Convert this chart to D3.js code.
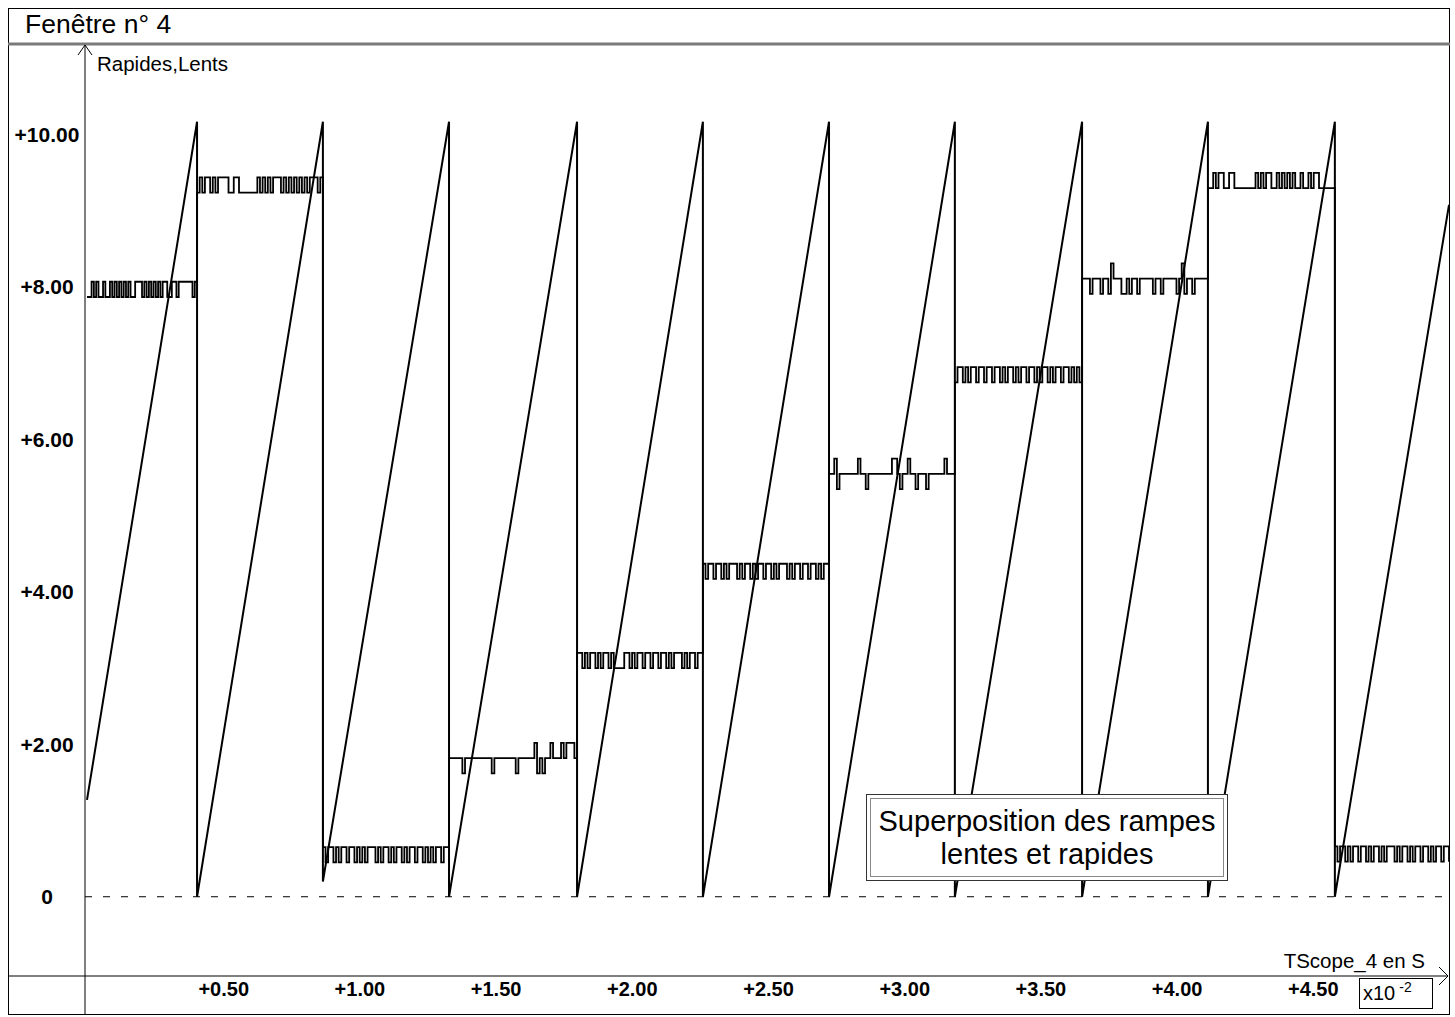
<!DOCTYPE html>
<html>
<head>
<meta charset="utf-8">
<script src="https://cdn.jsdelivr.net/npm/d3@7"></script>
<style>
  html, body { margin: 0; padding: 0; background: #fff; }
  svg { display: block; font-family: "Liberation Sans", Arial, sans-serif; }
</style>
</head>
<body>
<svg id="chart" width="1455" height="1017"></svg>
<script>
// Time axis in units of 10^-2 s. Boundaries of the slow-ramp steps,
// which are also the reset instants of the fast ramp.
const stepTimes = [0, 0.404, 0.866, 1.329, 1.799, 2.261, 2.724, 3.186, 3.653, 4.115, 4.581, 5.0];

// Slow ramp ("Lents"): level held during each step (V)
const slowLevels = [8.07, 9.24, 0.45, 1.82, 3.00, 4.17, 5.55, 6.75, 8.11, 9.30, 0.46];
// One converter quantum (V): the sampled level flickers by this amount
const slowQuantum = 0.2;
// Samples of each step: '.' = held level, 'u' = one quantum above, 'd' = one quantum below
const slowNoise = [
  "dd.d.dd.dd" + ".d.d.d.d.d" + "d...d.d.d." + "d.d..dd..d" + "......d.",
  ".u.uu.u.uu" + "uu..uu...." + "...u.u.u.u" + "uu.u.u.u.u" + ".u.uuu.u",
  "u.uu.u.uu." + "uu.u.u.uuu" + ".u.uu.u.uu" + ".u.uu.uu.u" + ".u.uu.uu",
  ".....d...." + "......d..." + ".....d...." + "..ud.d..u." + "..u.uuu.",
  "uu.u.uu.u." + "uu.u....uu" + ".u.uu.uu.u" + "u.uu.u.uuu" + ".u.uu.uu",
  "u.uu.uu.u." + "uuu.u.uu.u" + ".uu.uu.u.u" + "uu.u.uu.uu" + ".uu.u.uu",
  "..ud......" + ".u..d....." + "....uu.d.." + "u..d...d.." + "....u...",
  ".uu.u.uu.u" + "u.uu.uu.u." + "uu.u.uu.uu" + ".u.uu.u.uu" + ".uu.u.u.",
  "...d...d.." + "du...dd.d." + ".d.....d.." + "d.....d.ud" + "..d.....",
  "..u.uu..uu" + "........u." + "u.uu..u.u." + "u.u..u..u." + "uu......",
  "u.uu.u.uu." + "uu.u.uu.u." + "uuu.u.uu.u" + ".uu.uu.u.u" + "u.uu"
];

// Fast ramp ("Rapides"): value at the start and at the end of each ramp (V)
const fastStartValues = [1.27, 0, 0.20, 0, 0, 0, 0, 0, 0, 0, 0];
const fastEndValues   = [10.17, 10.17, 10.17, 10.17, 10.17, 10.17, 10.17, 10.17, 10.17, 10.17, 9.08];

// Axis ticks
const yTicks = [0, 2, 4, 6, 8, 10];
const xTicks = [0.5, 1, 1.5, 2, 2.5, 3, 3.5, 4, 4.5];

const svg = d3.select("#chart");

// Plot window
const plot = { left: 85, right: 1449, top: 44, bottom: 976 };

const x = d3.scaleLinear().domain([0, 5]).range([87, 1449]);
const y = d3.scaleLinear().domain([-1.04, 11.19]).range([plot.bottom, plot.top]);

// ---- window frame ----
svg.append("rect")
  .attr("x", 8.5).attr("y", 8.5)
  .attr("width", 1441).attr("height", 1006)
  .attr("fill", "#fff").attr("stroke", "#000").attr("stroke-width", 1);

svg.append("text")
  .attr("x", 25).attr("y", 33)
  .attr("font-size", 26.5)
  .attr("fill", "#000")
  .text("Fenêtre n° 4");

svg.append("line")
  .attr("x1", 8).attr("x2", 1450)
  .attr("y1", 44).attr("y2", 44)
  .attr("stroke", "#7a7a7a").attr("stroke-width", 3);

// ---- data ----
const clip = svg.append("defs").append("clipPath").attr("id", "plotClip");
clip.append("rect")
  .attr("x", plot.left).attr("y", plot.top)
  .attr("width", plot.right - plot.left).attr("height", plot.bottom - plot.top);

const dataLayer = svg.append("g").attr("clip-path", "url(#plotClip)");

// zero reference line
dataLayer.append("line")
  .attr("x1", plot.left).attr("x2", plot.right)
  .attr("y1", y(0)).attr("y2", y(0))
  .attr("stroke", "#000").attr("stroke-width", 1)
  .attr("stroke-dasharray", "7,11");

// slow staircase, sample by sample
const slowPoints = [];
slowLevels.forEach((level, i) => {
  const t0 = stepTimes[i], t1 = stepTimes[i + 1];
  const pattern = slowNoise[i];
  const dt = (t1 - t0) / pattern.length;
  for (let j = 0; j < pattern.length; j++) {
    const c = pattern[j];
    const v = level + (c === "u" ? slowQuantum : c === "d" ? -slowQuantum : 0);
    slowPoints.push([t0 + j * dt, v]);
  }
});
slowPoints.push([stepTimes[stepTimes.length - 1], slowLevels[slowLevels.length - 1]]);

const stepLine = d3.line()
  .x(d => x(d[0])).y(d => y(d[1]))
  .curve(d3.curveStepAfter);

dataLayer.append("path")
  .datum(slowPoints)
  .attr("d", stepLine)
  .attr("fill", "none")
  .attr("stroke", "#000")
  .attr("stroke-width", 1.8);

// fast sawtooth: rise during each step, reset at each boundary
const fastPoints = [];
fastStartValues.forEach((v0, i) => {
  fastPoints.push([stepTimes[i], v0]);
  fastPoints.push([stepTimes[i + 1], fastEndValues[i]]);
});

const rampLine = d3.line().x(d => x(d[0])).y(d => y(d[1]));

dataLayer.append("path")
  .datum(fastPoints)
  .attr("d", rampLine)
  .attr("fill", "none")
  .attr("stroke", "#000")
  .attr("stroke-width", 2)
  .attr("stroke-linejoin", "miter");

// ---- axes ----
const yAxis = svg.append("g")
  .attr("transform", `translate(${plot.left},0)`)
  .call(d3.axisLeft(y)
    .tickValues(yTicks)
    .tickSize(0)
    .tickFormat(v => v === 0 ? "0" : "+" + d3.format(".2f")(v)));
yAxis.select(".domain").remove();
yAxis.selectAll("text")
  .attr("x", -38)
  .attr("text-anchor", "middle")
  .attr("font-family", "Liberation Sans, Arial, sans-serif")
  .attr("font-size", 21)
  .attr("font-weight", "bold")
  .attr("fill", "#000");

const xAxis = svg.append("g")
  .attr("transform", `translate(0,${plot.bottom})`)
  .call(d3.axisBottom(x)
    .tickValues(xTicks)
    .tickSize(0)
    .tickPadding(6)
    .tickFormat(v => "+" + d3.format(".2f")(v)));
xAxis.select(".domain").remove();
xAxis.selectAll("text")
  .attr("font-family", "Liberation Sans, Arial, sans-serif")
  .attr("font-size", 20)
  .attr("font-weight", "bold")
  .attr("fill", "#000");

// vertical axis line with arrow
svg.append("line")
  .attr("x1", plot.left).attr("x2", plot.left)
  .attr("y1", 45).attr("y2", 1015)
  .attr("stroke", "#000").attr("stroke-width", 1);
svg.append("path")
  .attr("d", `M${plot.left - 7},55 L${plot.left},45 L${plot.left + 7},55`)
  .attr("fill", "none").attr("stroke", "#000").attr("stroke-width", 1);
svg.append("text")
  .attr("x", 97).attr("y", 71)
  .attr("font-size", 20.5)
  .attr("fill", "#000")
  .text("Rapides,Lents");

// horizontal axis line with arrow
svg.append("line")
  .attr("x1", 8).attr("x2", 1448)
  .attr("y1", plot.bottom).attr("y2", plot.bottom)
  .attr("stroke", "#000").attr("stroke-width", 1);
svg.append("path")
  .attr("d", `M1439,${plot.bottom - 9} L1448,${plot.bottom} L1439,${plot.bottom + 9}`)
  .attr("fill", "none").attr("stroke", "#000").attr("stroke-width", 1);
svg.append("text")
  .attr("x", 1425).attr("y", 968)
  .attr("text-anchor", "end")
  .attr("font-size", 20.5)
  .attr("fill", "#000")
  .text("TScope_4 en S");

// time multiplier box
svg.append("rect")
  .attr("x", 1359.5).attr("y", 978.5)
  .attr("width", 73).attr("height", 30)
  .attr("fill", "#fff").attr("stroke", "#000").attr("stroke-width", 1);
const mult = svg.append("text")
  .attr("x", 1363).attr("y", 1000)
  .attr("font-size", 20)
  .attr("fill", "#000");
mult.append("tspan").text("x10");
mult.append("tspan")
  .attr("dx", 4).attr("dy", -8)
  .attr("font-size", 14)
  .text("-2");

// ---- caption box ----
const cap = svg.append("g");
cap.append("rect")
  .attr("x", 866.5).attr("y", 794.5)
  .attr("width", 361).attr("height", 86)
  .attr("fill", "#fff").attr("stroke", "#333").attr("stroke-width", 1);
cap.append("rect")
  .attr("x", 870.5).attr("y", 798.5)
  .attr("width", 353).attr("height", 78)
  .attr("fill", "none").attr("stroke", "#888").attr("stroke-width", 1);
cap.append("text")
  .attr("x", 1047).attr("y", 831)
  .attr("text-anchor", "middle")
  .attr("font-size", 29)
  .attr("fill", "#000")
  .text("Superposition des rampes");
cap.append("text")
  .attr("x", 1047).attr("y", 864)
  .attr("text-anchor", "middle")
  .attr("font-size", 29)
  .attr("fill", "#000")
  .text("lentes et rapides");
</script>
</body>
</html>
